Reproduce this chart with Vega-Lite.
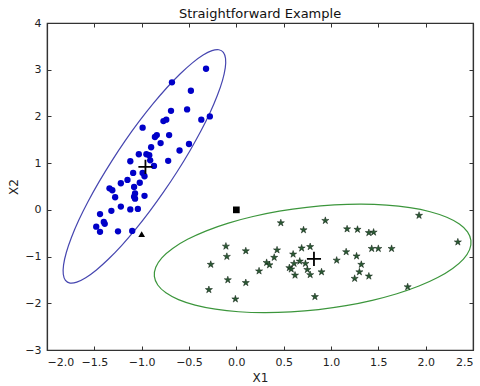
{
  "$schema": "https://vega.github.io/schema/vega-lite/v6.json",
  "width": 426,
  "height": 327,
  "autosize": {"type": "none"},
  "padding": {"left": 47, "top": 23, "right": 7, "bottom": 36},
  "background": "white",
  "config": {
    "view": {"stroke": "#333", "strokeWidth": 1.2},
    "font": "DejaVu Sans",
    "axis": {
      "domainColor": "#333", "domainWidth": 1.2, "tickColor": "#333", "labelColor": "#222", "titleColor": "#222",
      "labelFont": "DejaVu Sans", "titleFont": "DejaVu Sans", "labelFontSize": 11, "titleFontSize": 12,
      "titleFontWeight": "normal", "grid": false, "tickSize": -4, "labelPadding": 10
    }
  },
  "title": {"text": "Straightforward Example", "fontSize": 13, "fontWeight": "normal", "font": "DejaVu Sans", "color": "#111", "offset": -4},
  "datasets": {
    "pts": [
      {"x": -0.32, "y": 3.02, "k": "b"}, {"x": -0.68, "y": 2.73, "k": "b"}, {"x": -0.48, "y": 2.55, "k": "b"},
      {"x": -0.69, "y": 2.12, "k": "b"}, {"x": -0.52, "y": 2.15, "k": "b"}, {"x": -0.37, "y": 1.93, "k": "b"},
      {"x": -0.28, "y": 2.0, "k": "b"}, {"x": -0.77, "y": 1.9, "k": "b"}, {"x": -0.74, "y": 1.93, "k": "b"},
      {"x": -0.99, "y": 1.76, "k": "b"}, {"x": -0.84, "y": 1.6, "k": "b"}, {"x": -0.86, "y": 1.56, "k": "b"},
      {"x": -0.71, "y": 1.6, "k": "b"}, {"x": -0.8, "y": 1.43, "k": "b"}, {"x": -0.5, "y": 1.41, "k": "b"},
      {"x": -0.6, "y": 1.27, "k": "b"}, {"x": -0.9, "y": 1.34, "k": "b"}, {"x": -1.03, "y": 1.19, "k": "b"},
      {"x": -0.95, "y": 1.19, "k": "b"}, {"x": -0.92, "y": 1.17, "k": "b"}, {"x": -1.12, "y": 1.04, "k": "b"},
      {"x": -0.91, "y": 1.06, "k": "b"}, {"x": -0.72, "y": 1.05, "k": "b"}, {"x": -1.09, "y": 0.79, "k": "b"},
      {"x": -0.99, "y": 0.79, "k": "b"}, {"x": -0.87, "y": 0.94, "k": "b"}, {"x": -0.97, "y": 0.72, "k": "b"},
      {"x": -1.15, "y": 0.64, "k": "b"}, {"x": -1.22, "y": 0.57, "k": "b"}, {"x": -1.02, "y": 0.58, "k": "b"},
      {"x": -1.08, "y": 0.49, "k": "b"}, {"x": -1.34, "y": 0.46, "k": "b"}, {"x": -1.31, "y": 0.42, "k": "b"},
      {"x": -1.07, "y": 0.35, "k": "b"}, {"x": -1.08, "y": 0.28, "k": "b"}, {"x": -1.07, "y": 0.24, "k": "b"},
      {"x": -0.97, "y": 0.3, "k": "b"}, {"x": -1.28, "y": 0.27, "k": "b"}, {"x": -1.22, "y": 0.07, "k": "b"},
      {"x": -1.12, "y": 0.01, "k": "b"}, {"x": -1.04, "y": 0.02, "k": "b"}, {"x": -1.32, "y": -0.02, "k": "b"},
      {"x": -1.44, "y": -0.09, "k": "b"}, {"x": -1.4, "y": -0.26, "k": "b"}, {"x": -1.39, "y": -0.3, "k": "b"},
      {"x": -1.48, "y": -0.36, "k": "b"}, {"x": -1.44, "y": -0.47, "k": "b"}, {"x": -1.25, "y": -0.46, "k": "b"},
      {"x": -1.1, "y": -0.45, "k": "b"},
      {"x": 0.47, "y": -0.28, "k": "g"}, {"x": 0.94, "y": -0.23, "k": "g"}, {"x": 0.71, "y": -0.43, "k": "g"},
      {"x": 1.17, "y": -0.41, "k": "g"}, {"x": 1.28, "y": -0.42, "k": "g"}, {"x": 1.4, "y": -0.49, "k": "g"},
      {"x": 1.45, "y": -0.48, "k": "g"}, {"x": 1.93, "y": -0.12, "k": "g"}, {"x": 2.34, "y": -0.69, "k": "g"},
      {"x": -0.11, "y": -0.78, "k": "g"}, {"x": -0.1, "y": -1.0, "k": "g"}, {"x": 0.1, "y": -0.88, "k": "g"},
      {"x": -0.27, "y": -1.17, "k": "g"}, {"x": 0.43, "y": -0.86, "k": "g"}, {"x": 0.4, "y": -1.02, "k": "g"},
      {"x": 0.32, "y": -1.13, "k": "g"}, {"x": 0.35, "y": -1.18, "k": "g"}, {"x": 0.24, "y": -1.31, "k": "g"},
      {"x": 0.6, "y": -0.95, "k": "g"}, {"x": 0.69, "y": -0.82, "k": "g"}, {"x": 0.78, "y": -0.79, "k": "g"},
      {"x": 0.61, "y": -1.15, "k": "g"}, {"x": 0.67, "y": -1.1, "k": "g"}, {"x": 0.73, "y": -1.15, "k": "g"},
      {"x": 0.56, "y": -1.24, "k": "g"}, {"x": 0.58, "y": -1.27, "k": "g"}, {"x": 0.75, "y": -1.28, "k": "g"},
      {"x": 0.62, "y": -1.4, "k": "g"}, {"x": 0.78, "y": -1.39, "k": "g"}, {"x": 0.9, "y": -1.33, "k": "g"},
      {"x": 1.06, "y": -1.08, "k": "g"}, {"x": 1.16, "y": -0.9, "k": "g"}, {"x": 1.27, "y": -0.99, "k": "g"},
      {"x": 1.32, "y": -1.17, "k": "g"}, {"x": 1.3, "y": -1.33, "k": "g"}, {"x": 1.25, "y": -1.47, "k": "g"},
      {"x": 1.4, "y": -1.42, "k": "g"}, {"x": 1.43, "y": -0.83, "k": "g"}, {"x": 1.5, "y": -0.83, "k": "g"},
      {"x": 1.64, "y": -0.83, "k": "g"}, {"x": 1.81, "y": -1.65, "k": "g"}, {"x": -0.09, "y": -1.5, "k": "g"},
      {"x": 0.1, "y": -1.56, "k": "g"}, {"x": -0.29, "y": -1.71, "k": "g"}, {"x": -0.01, "y": -1.91, "k": "g"},
      {"x": 0.83, "y": -1.86, "k": "g"},
      {"x": -0.96, "y": 0.92, "k": "c"}, {"x": 0.82, "y": -1.05, "k": "c"},
      {"x": 0.0, "y": 0.0, "k": "s"},
      {"x": -1.0, "y": -0.52, "k": "t"}
    ],
    "ell": [
      {"e": "b", "i": 0, "x": -0.185, "y": 3.427}, {"e": "b", "i": 1, "x": -0.257, "y": 3.408},
      {"e": "b", "i": 2, "x": -0.351, "y": 3.314}, {"e": "b", "i": 3, "x": -0.464, "y": 3.147},
      {"e": "b", "i": 4, "x": -0.592, "y": 2.913}, {"e": "b", "i": 5, "x": -0.732, "y": 2.619},
      {"e": "b", "i": 6, "x": -0.879, "y": 2.273}, {"e": "b", "i": 7, "x": -1.029, "y": 1.887},
      {"e": "b", "i": 8, "x": -1.177, "y": 1.471}, {"e": "b", "i": 9, "x": -1.318, "y": 1.039},
      {"e": "b", "i": 10, "x": -1.449, "y": 0.604}, {"e": "b", "i": 11, "x": -1.566, "y": 0.179},
      {"e": "b", "i": 12, "x": -1.665, "y": -0.224}, {"e": "b", "i": 13, "x": -1.742, "y": -0.592},
      {"e": "b", "i": 14, "x": -1.796, "y": -0.913}, {"e": "b", "i": 15, "x": -1.825, "y": -1.178},
      {"e": "b", "i": 16, "x": -1.828, "y": -1.379}, {"e": "b", "i": 17, "x": -1.805, "y": -1.51},
      {"e": "b", "i": 18, "x": -1.757, "y": -1.567}, {"e": "b", "i": 19, "x": -1.685, "y": -1.548},
      {"e": "b", "i": 20, "x": -1.591, "y": -1.454}, {"e": "b", "i": 21, "x": -1.478, "y": -1.287},
      {"e": "b", "i": 22, "x": -1.35, "y": -1.053}, {"e": "b", "i": 23, "x": -1.21, "y": -0.759},
      {"e": "b", "i": 24, "x": -1.063, "y": -0.413}, {"e": "b", "i": 25, "x": -0.914, "y": -0.027},
      {"e": "b", "i": 26, "x": -0.766, "y": 0.389}, {"e": "b", "i": 27, "x": -0.624, "y": 0.821},
      {"e": "b", "i": 28, "x": -0.493, "y": 1.256}, {"e": "b", "i": 29, "x": -0.376, "y": 1.681},
      {"e": "b", "i": 30, "x": -0.277, "y": 2.084}, {"e": "b", "i": 31, "x": -0.2, "y": 2.452},
      {"e": "b", "i": 32, "x": -0.146, "y": 2.773}, {"e": "b", "i": 33, "x": -0.117, "y": 3.038},
      {"e": "b", "i": 34, "x": -0.114, "y": 3.239}, {"e": "b", "i": 35, "x": -0.137, "y": 3.37},
      {"e": "g", "i": 0, "x": 2.442, "y": -0.471}, {"e": "g", "i": 1, "x": 2.356, "y": -0.304},
      {"e": "g", "i": 2, "x": 2.223, "y": -0.159}, {"e": "g", "i": 3, "x": 2.047, "y": -0.041},
      {"e": "g", "i": 4, "x": 1.833, "y": 0.046}, {"e": "g", "i": 5, "x": 1.588, "y": 0.101},
      {"e": "g", "i": 6, "x": 1.319, "y": 0.121}, {"e": "g", "i": 7, "x": 1.035, "y": 0.105},
      {"e": "g", "i": 8, "x": 0.744, "y": 0.055}, {"e": "g", "i": 9, "x": 0.454, "y": -0.028},
      {"e": "g", "i": 10, "x": 0.176, "y": -0.143}, {"e": "g", "i": 11, "x": -0.084, "y": -0.284},
      {"e": "g", "i": 12, "x": -0.317, "y": -0.449}, {"e": "g", "i": 13, "x": -0.515, "y": -0.631},
      {"e": "g", "i": 14, "x": -0.673, "y": -0.826}, {"e": "g", "i": 15, "x": -0.787, "y": -1.027},
      {"e": "g", "i": 16, "x": -0.851, "y": -1.229}, {"e": "g", "i": 17, "x": -0.866, "y": -1.425},
      {"e": "g", "i": 18, "x": -0.83, "y": -1.609}, {"e": "g", "i": 19, "x": -0.744, "y": -1.776},
      {"e": "g", "i": 20, "x": -0.611, "y": -1.921}, {"e": "g", "i": 21, "x": -0.435, "y": -2.039},
      {"e": "g", "i": 22, "x": -0.221, "y": -2.126}, {"e": "g", "i": 23, "x": 0.024, "y": -2.181},
      {"e": "g", "i": 24, "x": 0.293, "y": -2.201}, {"e": "g", "i": 25, "x": 0.577, "y": -2.185},
      {"e": "g", "i": 26, "x": 0.868, "y": -2.135}, {"e": "g", "i": 27, "x": 1.158, "y": -2.052},
      {"e": "g", "i": 28, "x": 1.436, "y": -1.937}, {"e": "g", "i": 29, "x": 1.696, "y": -1.796},
      {"e": "g", "i": 30, "x": 1.929, "y": -1.631}, {"e": "g", "i": 31, "x": 2.127, "y": -1.449},
      {"e": "g", "i": 32, "x": 2.285, "y": -1.254}, {"e": "g", "i": 33, "x": 2.399, "y": -1.053},
      {"e": "g", "i": 34, "x": 2.464, "y": -0.851}, {"e": "g", "i": 35, "x": 2.478, "y": -0.655}
    ]
  },
  "layer": [
    {
      "data": {"name": "ell"},
      "mark": {"type": "line", "interpolate": "cardinal-closed", "strokeWidth": 1.2},
      "encoding": {
        "x": {"field": "x", "type": "quantitative", "scale": {"domain": [-2, 2.5], "nice": false, "zero": false},
              "axis": {"orient": "bottom", "title": "X1", "values": [-2, -1.5, -1, -0.5, 0, 0.5, 1, 1.5, 2, 2.5], "format": ".1f", "titlePadding": 5}},
        "y": {"field": "y", "type": "quantitative", "scale": {"domain": [-3, 4], "nice": false, "zero": false},
              "axis": {"orient": "left", "title": "X2", "values": [-3, -2, -1, 0, 1, 2, 3, 4], "format": "d", "titlePadding": 4}},
        "color": {"field": "e", "type": "nominal", "scale": {"domain": ["b", "g"], "range": ["#4646b0", "#3c963c"]}, "legend": null},
        "order": {"field": "i", "type": "quantitative"}
      }
    },
    {
      "data": {"name": "pts"},
      "transform": [{"filter": "datum.k === 'b'"}],
      "mark": {"type": "point", "shape": "circle", "filled": true, "size": 40, "color": "#0000c8", "opacity": 1},
      "encoding": {
        "x": {"field": "x", "type": "quantitative", "axis": {"orient": "top", "title": null, "labels": false, "values": [-2, -1.5, -1, -0.5, 0, 0.5, 1, 1.5, 2, 2.5]}},
        "y": {"field": "y", "type": "quantitative", "axis": {"orient": "right", "title": null, "labels": false, "values": [-3, -2, -1, 0, 1, 2, 3, 4]}}
      }
    },
    {
      "data": {"name": "pts"},
      "transform": [{"filter": "datum.k === 'g'"}],
      "mark": {"type": "point", "shape": "M0,-1L0.223,-0.307L0.951,-0.309L0.361,0.117L0.588,0.809L0,0.38L-0.588,0.809L-0.361,0.117L-0.951,-0.309L-0.223,-0.307Z", "filled": true, "size": 56, "color": "#2b5a34", "stroke": "#0d1f10", "strokeWidth": 0.5, "opacity": 1},
      "encoding": {
        "x": {"field": "x", "type": "quantitative", "axis": null},
        "y": {"field": "y", "type": "quantitative", "axis": null}
      }
    },
    {
      "data": {"name": "pts"},
      "transform": [{"filter": "datum.k === 's'"}],
      "mark": {"type": "point", "shape": "square", "filled": true, "size": 45, "color": "#000", "opacity": 1},
      "encoding": {
        "x": {"field": "x", "type": "quantitative", "axis": null},
        "y": {"field": "y", "type": "quantitative", "axis": null}
      }
    },
    {
      "data": {"name": "pts"},
      "transform": [{"filter": "datum.k === 't'"}],
      "mark": {"type": "point", "shape": "triangle-up", "filled": true, "size": 45, "color": "#000", "opacity": 1},
      "encoding": {
        "x": {"field": "x", "type": "quantitative", "axis": null},
        "y": {"field": "y", "type": "quantitative", "axis": null}
      }
    },
    {
      "data": {"name": "pts"},
      "transform": [{"filter": "datum.k === 'c'"}],
      "mark": {"type": "point", "shape": "M-1,0L1,0M0,-1L0,1", "filled": false, "size": 200, "stroke": "#000", "strokeWidth": 1.8, "opacity": 1},
      "encoding": {
        "x": {"field": "x", "type": "quantitative", "axis": null},
        "y": {"field": "y", "type": "quantitative", "axis": null}
      }
    }
  ],
  "resolve": {"axis": {"x": "independent", "y": "independent"}}
}
